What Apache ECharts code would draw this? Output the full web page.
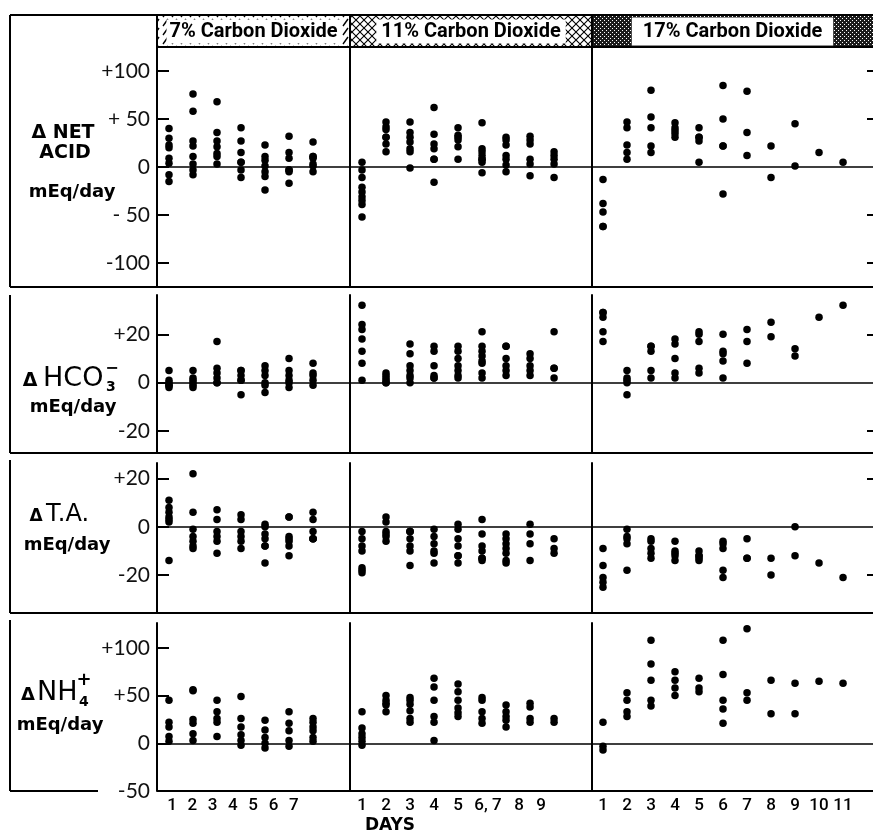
<!DOCTYPE html>
<html><head><meta charset="utf-8">
<script src="https://cdn.jsdelivr.net/npm/echarts@6/dist/echarts.min.js"></script>
<style>html,body{margin:0;padding:0;background:#fff}#c{width:873px;height:837px}</style>
</head><body><div id="c"></div>
<script>
// ---------- texts ----------
const headers = ['7% Carbon Dioxide', '11% Carbon Dioxide', '17% Carbon Dioxide'];
const dayLabels7 = ['1','2','3','4','5','6','7'];
const dayLabels11 = ['1','2','3','4','5','6,','7','8','9'];
const dayLabels17 = ['1','2','3','4','5','6','7','8','9','10','11'];
const xTitle = 'DAYS';

const netAcidTickVals = [100, 50, 0, -50, -100];
const netAcidTickText = ['+100', '+ 50', '0', '- 50', '-100'];
const hco3TickVals = [20, 0, -20];
const hco3TickText = ['+20', '0', '-20'];
const taTickVals = [20, 0, -20];
const taTickText = ['+20', '0', '-20'];
const nh4TickVals = [100, 50, 0, -50];
const nh4TickText = ['+100', '+50', '0', '-50'];

// ---------- data: one inner array per day ----------
const netAcid7 = [
 [40, 30, 23, 20, 9, 4, -8, -15],
 [76, 58, 27, 22, 11, 3, -3, -8],
 [68, 36, 27, 21, 14, 11, 3],
 [41, 27, 15, 5, 5, -3, -11],
 [23, 11, 7, 1, -5, -10, -24],
 [32, 15, 9, -3, -3, -5, -17],
 [26, 11, 11, 9, 3, 1, -5]
];
const netAcid11 = [
 [5, -3, -11, -21, -26, -31, -35, -39, -52],
 [47, 42, 39, 31, 31, 24, 16],
 [47, 36, 31, 26, 19, 16, -1],
 [62, 34, 24, 19, 8, 8, -16],
 [41, 33, 31, 28, 21, 8],
 [46, 19, 16, 12, 8, 8, 5, -6],
 [31, 28, 23, 12, 8, 2, -5],
 [32, 28, 24, 8, 3, -9],
 [16, 12, 8, 3, -11]
];
const netAcid17 = [
 [-13, -38, -47, -62, -62],
 [47, 41, 23, 15, 8],
 [80, 52, 41, 22, 15],
 [46, 41, 38, 35, 31],
 [41, 31, 31, 27, 5],
 [85, 50, 22, 22, -28],
 [79, 36, 12],
 [22, -11],
 [45, 1],
 [15],
 [5]
];
const hco3_7 = [
 [5, 1, 0, -1, -2, -1],
 [5, 2, 1, 0, -1, -2],
 [17, 6, 4, 2, 0, 0],
 [5, 5, 3, 1, 1, -5],
 [7, 5, 3, 0, -1, -4],
 [10, 5, 3, 1, 0, -2],
 [8, 4, 3, 1, -1]
];
const hco3_11 = [
 [32, 24, 22, 18, 13, 8, 1],
 [4, 3, 2, 1, 0, 0],
 [16, 12, 7, 5, 3, 2, 0],
 [15, 13, 7, 3, 2, 2],
 [15, 13, 10, 7, 5, 3, 2],
 [21, 15, 13, 11, 9, 8, 4, 2],
 [15, 15, 10, 7, 5, 3],
 [12, 10, 7, 5, 3],
 [21, 6, 6, 2]
];
const hco3_17 = [
 [29, 29, 27, 21, 17],
 [5, 2, 1, 0, -5],
 [15, 15, 13, 5, 2],
 [18, 16, 10, 4, 2],
 [21, 20, 17, 6, 4],
 [20, 13, 12, 9, 2],
 [22, 17, 8],
 [25, 19],
 [14, 11],
 [27],
 [32]
];
const ta7 = [
 [11, 8, 6, 4, 3, 2, -14],
 [22, 6, -1, -4, -6, -8, -9],
 [7, 3, -2, -4, -6, -11],
 [5, 3, -2, -4, -6, -9],
 [1, 0, -3, -5, -8, -8, -15],
 [4, 4, -4, -5, -6, -8, -12],
 [6, 3, -2, -5, -5, -5]
];
const ta11 = [
 [-2, -5, -8, -10, -17, -18, -19],
 [4, 2, -2, -3, -4, -6],
 [-2, -2, -2, -5, -8, -10, -16],
 [-1, -4, -7, -10, -11, -15],
 [1, -1, -5, -8, -12, -12, -15],
 [3, -3, -8, -10, -13, -13, -14],
 [-3, -5, -7, -9, -11, -14, -15],
 [1, -3, -7, -14],
 [-5, -9, -11]
];
const ta17 = [
 [-9, -16, -21, -23, -25],
 [-1, -4, -5, -7, -18],
 [-5, -6, -9, -11, -13],
 [-6, -10, -11, -12, -14],
 [-10, -12, -12, -13, -14],
 [-6, -7, -9, -18, -21],
 [-5, -13, -13],
 [-13, -20],
 [0, -12],
 [-15],
 [-21]
];
const nh4_7 = [
 [45, 22, 17, 7, 2],
 [56, 55, 25, 21, 10, 3],
 [45, 33, 26, 22, 7],
 [49, 26, 17, 9, 3, -2],
 [24, 14, 6, 0, -5],
 [33, 21, 13, 3, -3],
 [26, 22, 17, 13, 6, 2]
];
const nh4_11 = [
 [33, 16, 10, 6, 2, -2],
 [50, 45, 42, 40, 33],
 [48, 45, 41, 34, 26, 22],
 [68, 59, 45, 28, 22, 3],
 [62, 54, 45, 37, 32, 28],
 [48, 45, 33, 26, 21],
 [40, 33, 28, 24, 17],
 [42, 38, 26, 22],
 [26, 22]
];
const nh4_17 = [
 [22, -3, -7],
 [53, 45, 33, 28],
 [108, 83, 66, 45, 39],
 [75, 66, 58, 50],
 [68, 58, 54],
 [108, 72, 45, 36, 21],
 [120, 53, 45],
 [66, 31],
 [63, 31],
 [65],
 [63]
];

// ---------- layout ----------
const colL = [157, 350, 592], colR = [350, 592, 874];
const rowT = [47, 295, 463, 623], rowB = [287, 453, 613, 791];
const xRange = [[0.5, 8.54], [0.5, 10.58], [0.542, 12.29]];
const yRange = [[-125, 125], [-29, 36.2], [-35.7, 26.4], [-50, 126]];
// bottom label axis scales (labels are printed on a slightly different spacing)
const labelRange = [[0.261, 9.768], [0.5, 10.58], [0.542, 12.29]];
const labelPos = [[1,2,3,4,5,6,7], [1,2,3,4,5,5.96,6.62,7.54,8.46], [1,2,3,4,5,6,7,8,9,10,11]];
const labelText = [dayLabels7, dayLabels11, dayLabels17];

const rows = [
  {data: [netAcid7, netAcid11, netAcid17], tv: netAcidTickVals, tt: netAcidTickText},
  {data: [hco3_7, hco3_11, hco3_17], tv: hco3TickVals, tt: hco3TickText},
  {data: [ta7, ta11, ta17], tv: taTickVals, tt: taTickText},
  {data: [nh4_7, nh4_11, nh4_17], tv: nh4TickVals, tt: nh4TickText}
];

function toPoints(perDay) {
  const out = [];
  perDay.forEach((vals, i) => vals.forEach(v => out.push([i + 1, v])));
  return out;
}

const tickFont = 'Lato';
const grid = [], xAxis = [], yAxis = [], series = [];
for (let r = 0; r < 4; r++) {
  for (let c = 0; c < 3; c++) {
    const g = r * 3 + c;
    grid.push({left: colL[c], top: rowT[r], width: colR[c] - colL[c], height: rowB[r] - rowT[r],
      containLabel: false, outerBoundsMode: 'none'});
    xAxis.push({gridIndex: g, type: 'value', min: xRange[c][0], max: xRange[c][1],
      axisLine: {show: true, onZero: true, lineStyle: {color: '#000', width: 1.6}},
      axisTick: {show: false}, axisLabel: {show: false}, splitLine: {show: false}});
    const tv = rows[r].tv, tt = rows[r].tt;
    yAxis.push({gridIndex: g, type: 'value', min: yRange[r][0], max: yRange[r][1],
      axisLine: {show: true, lineStyle: {color: '#000', width: 2}},
      axisTick: c === 0 ? {show: true, inside: true, length: 12, customValues: tv, lineStyle: {color: '#000', width: 2}} : {show: false},
      axisLabel: c === 0 ? {show: true, customValues: tv, margin: 7, color: '#111', fontFamily: tickFont, fontSize: 21,
        formatter: v => { const i = tv.findIndex(t => Math.abs(t - v) < 1e-6); return i >= 0 ? tt[i] : ''; }} : {show: false},
      splitLine: {show: false}});
    series.push({type: 'scatter', xAxisIndex: g, yAxisIndex: g, data: toPoints(rows[r].data[c]),
      symbol: 'circle', symbolSize: 7.5, itemStyle: {color: '#000', opacity: 1}, silent: true});
  }
}
// right-side ticks of the 17% panels
for (let r = 0; r < 3; r++) {
  const g = r * 3 + 2;
  yAxis.push({gridIndex: g, type: 'value', position: 'right', min: yRange[r][0], max: yRange[r][1],
    axisLine: {show: false}, axisLabel: {show: false}, splitLine: {show: false},
    axisTick: {show: true, inside: true, length: 7, customValues: rows[r].tv.filter(v => v !== 0), lineStyle: {color: '#000', width: 2}}});
}
// bottom day labels
for (let c = 0; c < 3; c++) {
  const g = 9 + c, pos = labelPos[c], txt = labelText[c];
  xAxis.push({gridIndex: g, type: 'value', position: 'bottom', min: labelRange[c][0], max: labelRange[c][1],
    axisLine: {show: false, onZero: false}, axisTick: {show: false}, splitLine: {show: false},
    axisLabel: {show: true, customValues: pos, margin: 6, color: '#000', fontFamily: 'Roboto', fontWeight: 500, fontSize: 17,
      formatter: v => { const i = pos.findIndex(p => Math.abs(p - v) < 1e-6); return i >= 0 ? txt[i] : ''; }}});
}

// ---------- decorations ----------
function pat(kind) {
  const cv = document.createElement('canvas');
  const ctx = cv.getContext('2d');
  if (kind === 'diag') {
    cv.width = 9; cv.height = 9;
    ctx.fillStyle = '#fff'; ctx.fillRect(0, 0, 9, 9);
    ctx.strokeStyle = '#000'; ctx.lineWidth = 1.4;
    ctx.beginPath(); ctx.moveTo(1, 8); ctx.lineTo(6, 1); ctx.stroke();
  } else if (kind === 'cross') {
    cv.width = 8; cv.height = 8;
    ctx.fillStyle = '#fff'; ctx.fillRect(0, 0, 8, 8);
    ctx.strokeStyle = '#000'; ctx.lineWidth = 1.1;
    ctx.beginPath(); ctx.moveTo(0, 0); ctx.lineTo(8, 8); ctx.moveTo(8, 0); ctx.lineTo(0, 8); ctx.stroke();
  } else {
    cv.width = 4; cv.height = 4;
    ctx.fillStyle = '#1c1c1c'; ctx.fillRect(0, 0, 4, 4);
    ctx.fillStyle = '#fff'; ctx.fillRect(0, 0, 1, 1); ctx.fillRect(2, 2, 1, 1);
  }
  return {image: cv, repeat: 'repeat'};
}
function ln(x1, y1, x2, y2, w) {
  return {type: 'line', silent: true, z: 10, shape: {x1, y1, x2, y2}, style: {stroke: '#000', lineWidth: w || 2}};
}
function tx(x, y, text, font, align, extra) {
  return {type: 'text', silent: true, z: 11, x, y,
    style: Object.assign({text, font, fill: '#000', textAlign: align || 'center', textVerticalAlign: 'middle',
      align: align || 'center', verticalAlign: 'middle'}, extra || {})};
}
const hTop = 15, hBot = 47;
const patterns = [pat('diag'), pat('cross'), pat('dense')];
const headPad = [[2, 3], [2, 5], [4, 11]];
const graphics = [];
for (let c = 0; c < 3; c++) {
  graphics.push({type: 'rect', silent: true, z: 5, shape: {x: colL[c], y: hTop, width: Math.min(colR[c], 873) - colL[c], height: hBot - hTop},
    style: {fill: patterns[c]}});
  graphics.push(tx((colL[c] + Math.min(colR[c], 873)) / 2, (hTop + hBot) / 2 + 0.5, headers[c], 'bold 20px Roboto', 'center',
    {backgroundColor: '#fff', padding: headPad[c]}));
}
// frame lines
graphics.push(ln(10, hTop, 873, hTop));
graphics.push(ln(colL[0], hBot, 873, hBot));
[157, 350, 592].forEach(x => graphics.push(ln(x, hTop, x, hBot)));
const boxTop = [hTop, 295, 460, 620];
for (let r = 0; r < 4; r++) {
  graphics.push(ln(10, boxTop[r], 10, rowB[r]));
  if (r < 3) graphics.push(ln(10, rowB[r], 873, rowB[r]));
}
graphics.push(ln(10, rowB[3], 98, rowB[3]));
graphics.push(ln(colL[0], rowB[3], 873, rowB[3]));

// row titles
const bold = (s) => 'bold ' + s + 'px "DejaVu Sans"';
const reg = (s) => s + 'px "DejaVu Sans"';
graphics.push(tx(63, 133, 'Δ NET', bold(19)));
graphics.push(tx(65, 153, 'ACID', bold(19)));
graphics.push(tx(72, 192, 'mEq/day', bold(18)));

graphics.push(tx(30, 381, 'Δ', bold(19)));
graphics.push(tx(43, 379, 'HCO', reg(27), 'left'));
graphics.push(tx(106, 387, '3', bold(14), 'left'));
graphics.push(tx(112, 369, '−', bold(16)));
graphics.push(tx(73, 407, 'mEq/day', bold(18)));

graphics.push(tx(36, 517, 'Δ', bold(17)));
graphics.push(tx(46, 515, 'T.A.', reg(24), 'left'));
graphics.push(tx(67, 545, 'mEq/day', bold(18)));

graphics.push(tx(28, 695, 'Δ', bold(18)));
graphics.push(tx(37, 693, 'NH', reg(27), 'left'));
graphics.push(tx(79, 702, '4', bold(14), 'left'));
graphics.push(tx(84, 680, '+', bold(18)));
graphics.push(tx(60, 725, 'mEq/day', bold(18)));

graphics.push(tx(390, 826, xTitle, bold(17)));

const chart = echarts.init(document.getElementById('c'), null, {renderer: 'canvas'});
chart.setOption({
  animation: false,
  backgroundColor: '#fff',
  grid, xAxis, yAxis, series,
  graphic: {elements: graphics}
});
</script></body></html>
